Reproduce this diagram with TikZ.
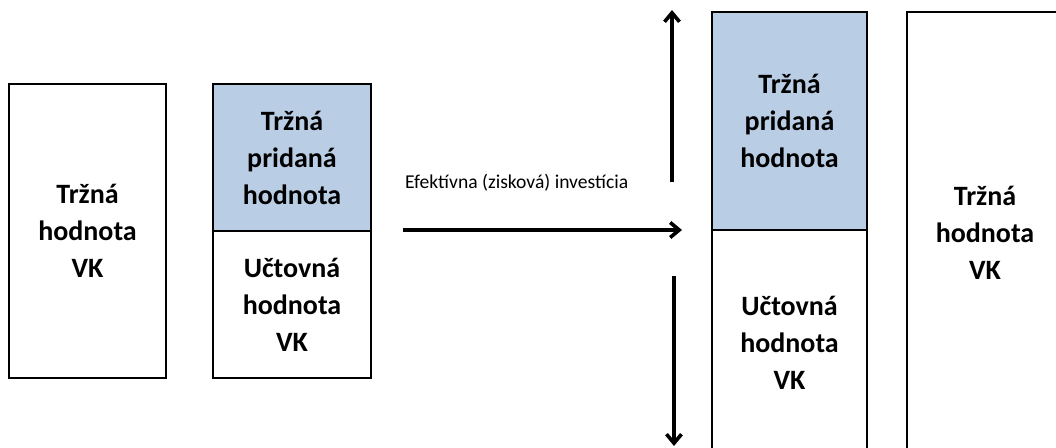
\documentclass[tikz,border=0pt]{standalone}
\usepackage{fontspec}
\setmainfont{Carlito}
\usetikzlibrary{arrows.meta}
\definecolor{paleblue}{RGB}{185,205,229}
\begin{document}
\begin{tikzpicture}[x=1pt,y=-1pt,
  block/.style={draw=black, line width=2.2pt, anchor=north west, inner sep=0pt, outer sep=0pt,
    align=center, font=\fontsize{28}{37}\selectfont\bfseries},
  flow/.style={line width=3.6pt, -{Straight Barb[length=9pt,width=15pt,line width=3.6pt]}},
  caption/.style={anchor=west, inner sep=0pt, font=\fontsize{19.6}{23}\selectfont},
]
\useasboundingbox (0,0) rectangle (1056,447);
\clip (0,0) rectangle (1056,447);

% before the investment
\node[block, minimum width=157pt, minimum height=294pt] (mv1) at (9,84) {Tržná\\hodnota\\VK};
\node[block, fill=paleblue, minimum width=158pt, minimum height=147pt] (mva1) at (213,84) {Tržná\\pridaná\\hodnota};
\node[block, anchor=north, minimum width=158pt, minimum height=147pt] (bv1) at (mva1.south) {Učtovná\\hodnota\\VK};

% after the investment
\node[block, fill=paleblue, minimum width=155pt, minimum height=218pt] (mva2) at (712,12) {Tržná\\pridaná\\hodnota};
\node[block, anchor=north, minimum width=155pt, minimum height=226pt] (bv2) at (mva2.south) {Učtovná\\hodnota\\VK};
\node[block, minimum width=156pt, minimum height=442pt] (mv2) at (907,12) {Tržná\\hodnota\\VK};

% arrows
\coordinate (hs) at (403,230);
\coordinate (he) at (682,230);
\coordinate (us) at (672,182);
\coordinate (ue) at (672,10);
\coordinate (ds) at (674,276);
\coordinate (de) at (674,446);
\draw[flow] (hs) -- (he);
\draw[flow] (us) -- (ue);
\draw[flow] (ds) -- (de);
\node[caption] (lbl) at (405,183) {Efektívna (zisková) investícia};
\end{tikzpicture}
\end{document}
